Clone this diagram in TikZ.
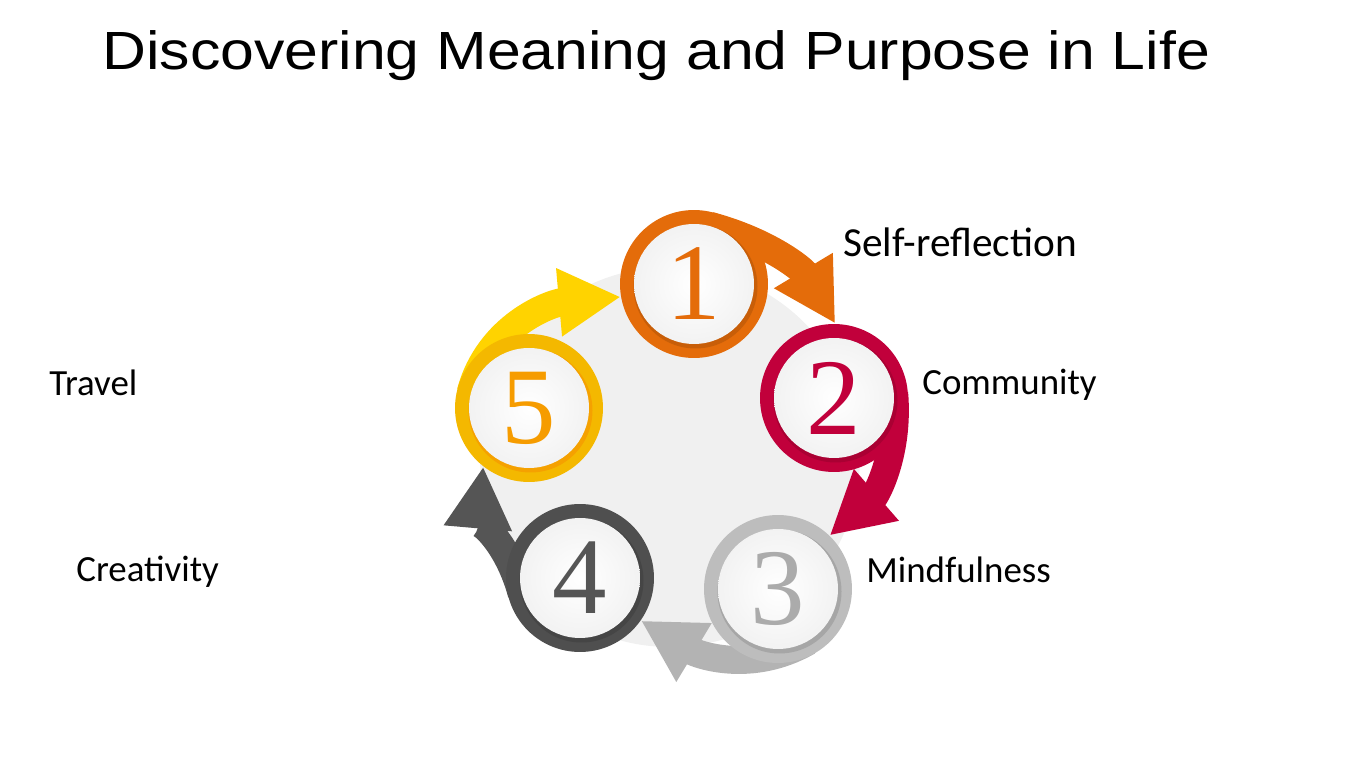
\documentclass[tikz,border=0pt]{standalone}
\usepackage{fontspec}
\setmainfont{Carlito}
\newfontfamily\titlefont[FakeStretch=1.13]{Liberation Sans}
\newfontfamily\numfont{Liberation Serif}
\usetikzlibrary{arrows.meta}
\pgfdeclarelayer{back}
\pgfsetlayers{back,main}

\definecolor{cOne}{HTML}{E46C0A}
\definecolor{cTwo}{HTML}{C1003B}
\definecolor{cThree}{HTML}{BDBDBD}
\definecolor{cFour}{HTML}{4F4F4F}
\definecolor{cFive}{HTML}{F4B800}
\definecolor{cFiveArrow}{HTML}{FFD300}
\definecolor{cThreeArrow}{HTML}{B3B3B3}
\definecolor{cFour2}{HTML}{555555}

\tikzset{
  ring/.style={circle, fill=#1, minimum size=2.96cm, inner sep=0pt},
  disk/.style={circle, shade, inner color=white, outer color=black!5,
    minimum size=2.4cm, inner sep=0pt, text=#1,
    font=\numfont\fontsize{62}{62}\selectfont},
  band/.style={line width=0.56cm, draw=#1,
    -{Triangle[length=1.24cm,width=1.28cm,fill=#1]}},
  label/.style={anchor=base west, inner sep=0pt, font=\fontsize{21}{25}\selectfont}
}

\begin{document}
\begin{tikzpicture}[x=0.02cm,y=0.02cm]
  \useasboundingbox (0,0) rectangle (1350,-759);

  \node[anchor=base west, inner sep=0pt, font=\titlefont\fontsize{30.6}{36}\selectfont] (title) at (102,-70)
    {Discovering Meaning and Purpose in Life};

  % the five steps
  \node[ring=cOne] (c1) at (694,-284) {};
  \node[ring=cTwo] (c2) at (834,-398) {};
  \node[ring=cThree] (c3) at (778,-589) {};
  \node[ring=cFour] (c4) at (580,-578) {};
  \node[ring=cFive] (c5) at (529,-408) {};
  \fill[cOne!80!black, opacity=.6] (c1) ++(1.5,-2.5) circle [radius=62];
  \fill[cTwo!80!black, opacity=.6] (c2) ++(1.5,-2.5) circle [radius=62];
  \fill[cThree!80!black, opacity=.6] (c3) ++(1.5,-2.5) circle [radius=62];
  \fill[cFour!80!black, opacity=.6] (c4) ++(1.5,-2.5) circle [radius=62];
  \fill[cFive!80!red, opacity=.6] (c5) ++(1.5,-2.5) circle [radius=62];
  \node[disk=cOne] (d1) at (c1) {1};
  \node[disk=cTwo] (d2) at (c2) {2};
  \node[disk=black!33] (d3) at (c3) {3};
  \node[disk=cFour2] (d4) at (c4) {4};
  \node[disk=cFive!85!red] (d5) at (c5) {5};

  % background disc and arrows
  \begin{pgfonlayer}{back}
    \fill[black!6] (670,-457) circle [radius=190];
    \draw[band=cOne] (d1.75) to[out=-15,in=121] (c2.89);
    \draw[band=cTwo] (d2.5) to[out=-85,in=41] (c3.46);
    \draw[band=cThreeArrow] (d3.-60) to[out=-150,in=-31] (c4.-35);
    \draw[band=cFour2] (d4.195) to[out=105,in=-95] (c5.232);
    \draw[band=cFiveArrow] (d5.165) to[out=75,in=185] (c1.190);
  \end{pgfonlayer}

  \node[label, font=\fontsize{23.5}{28}\selectfont] (self) at (843,-257) {Self-reflection};
  \node[label] (comm) at (922,-395) {Community};
  \node[label] (mind) at (866,-583) {Mindfulness};
  \node[label] (travel) at (49,-396) {Travel};
  \node[label] (creat) at (76,-582) {Creativity};
\end{tikzpicture}
\end{document}
